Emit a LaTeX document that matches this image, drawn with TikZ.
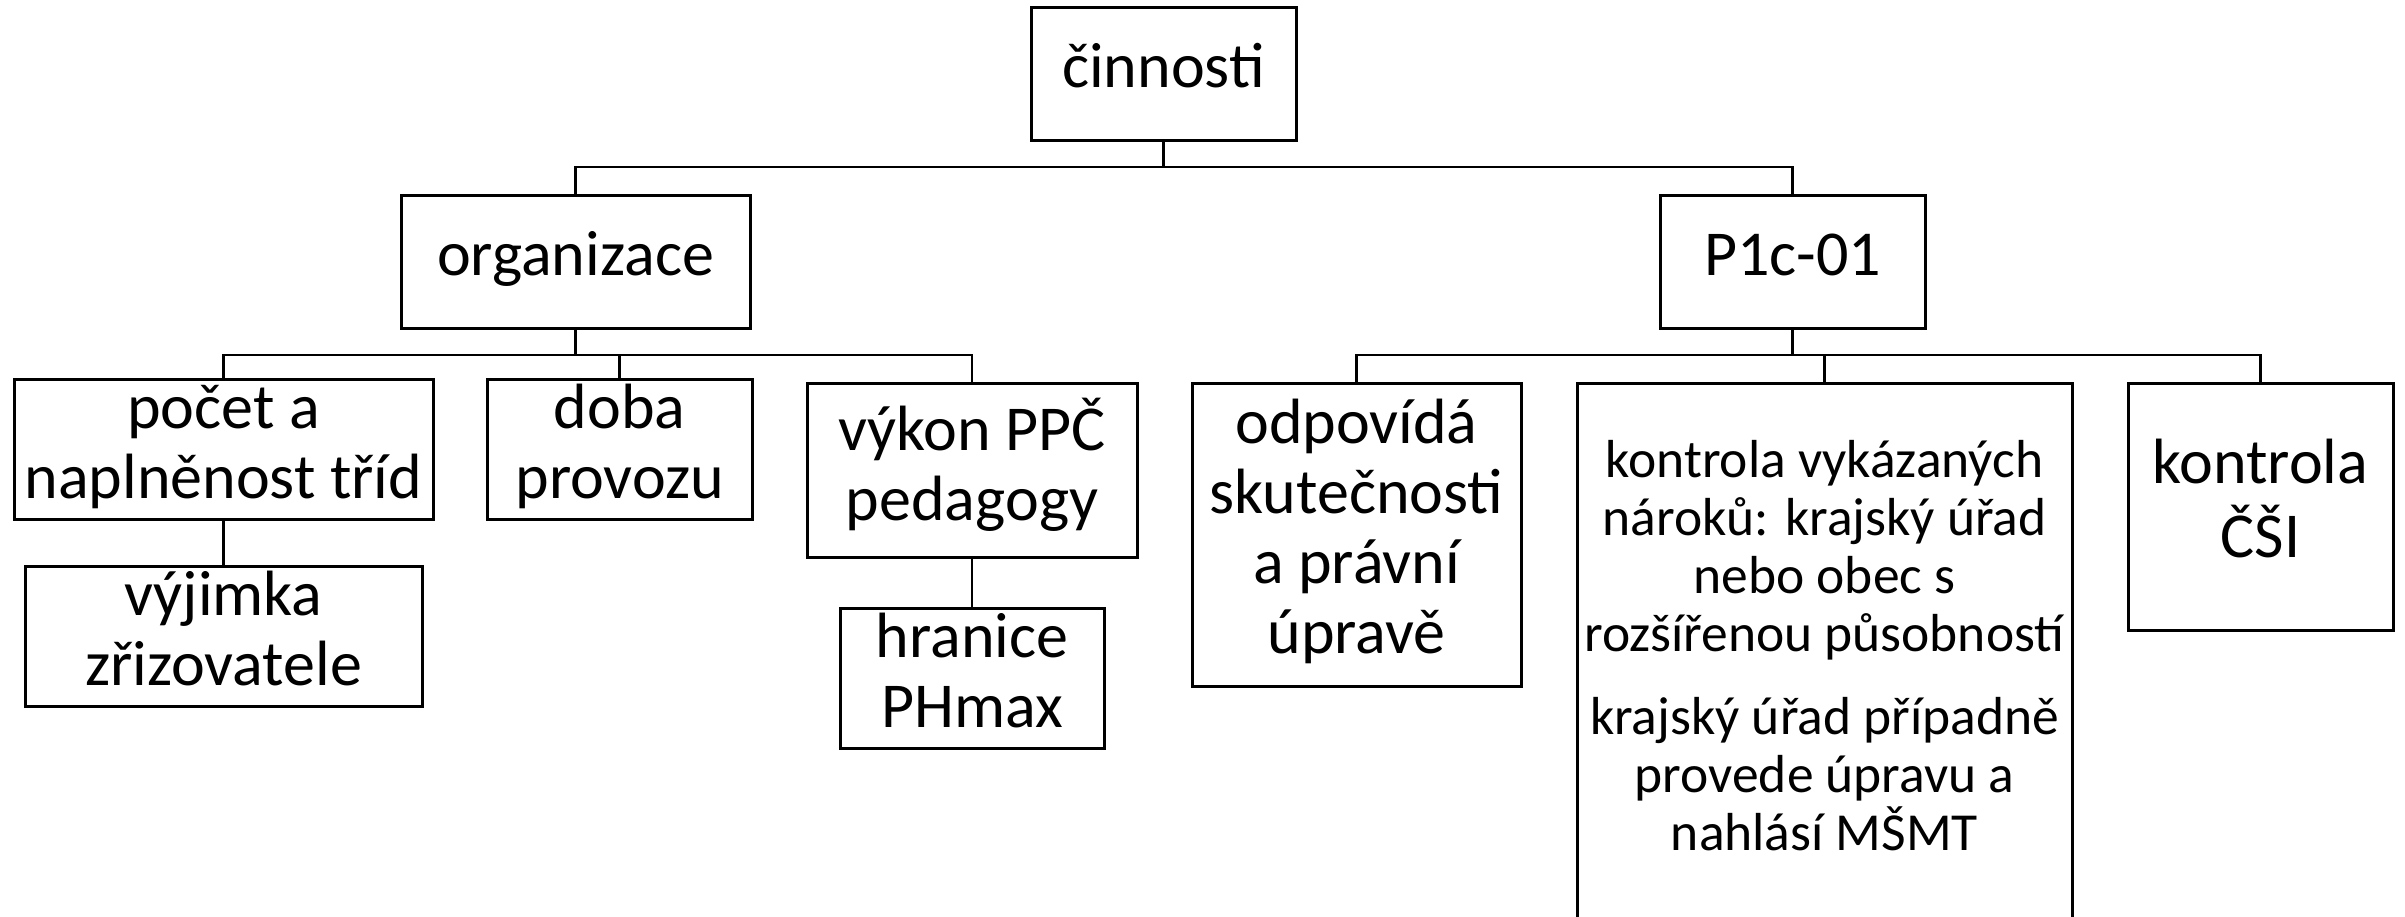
\documentclass[tikz,border=0pt]{standalone}
\usepackage{fontspec}
\setmainfont{Carlito}
\newcommand\BoxFont{\fontsize{64}{70}\selectfont}
\newcommand\SmallBoxFont{\fontsize{53.5}{58}\selectfont}
\begin{document}
\begin{tikzpicture}[x=1pt,y=-1pt,
  box/.style={draw=black,line width=3pt,inner sep=0pt,align=center,font=\BoxFont},
  smallbox/.style={box,font=\SmallBoxFont},
  conn/.style={draw=black,line width=2.4pt}]
\clip (0,0) rectangle (2405,916);
\fill[white] (0,0) rectangle (2405,916);
% level 0
\node[box,minimum width=265pt,minimum height=133pt] (root) at (1163.5,73.5) {\strut činnosti\strut};
% level 1
\node[box,minimum width=349pt,minimum height=133pt] (org) at (575.5,261.5) {\strut organizace\strut};
\node[box,minimum width=265pt,minimum height=133pt] (p1c) at (1792.5,261.5) {\strut P1c-01\strut};
% level 2 (left)
\node[box,minimum width=419pt,minimum height=133pt] (pocet) at (223.5,449.5) {\strut počet a\\naplněnost tříd\strut};
\node[box,minimum width=265pt,minimum height=133pt] (doba) at (619.5,449.5) {\strut doba\\provozu\strut};
\node[box,minimum width=330pt,minimum height=174pt] (vykon) at (972,470) {\strut výkon PPČ\\pedagogy\strut};
% level 3 (left)
\node[box,minimum width=397pt,minimum height=133pt] (vyjimka) at (223.5,636.5) {\strut výjimka\\zřizovatele\strut};
\node[box,minimum width=264pt,minimum height=133pt] (hranice) at (972,678.5) {\strut hranice\\PHmax\strut};
% level 2 (right)
\node[box,minimum width=329pt,minimum height=303pt] (odp) at (1356.5,534.5) {\strut odpovídá\\skutečnosti\\a právní\\úpravě\strut};
\node[smallbox,minimum width=495pt,minimum height=538pt] (kontr) at (1824.5,652) {\strut kontrola vykázaných\\nároků: krajský úřad\\nebo obec s\\rozšířenou působností\\[25pt]krajský úřad případně\\provede úpravu a\\nahlásí MŠMT\strut};
\node[box,minimum width=265pt,minimum height=247pt] (csi) at (2260.5,506.5) {\strut kontrola\\ČŠI\strut};
% bars
\coordinate (b1) at (0,167);
\coordinate (b2) at (0,355);
% connectors
\draw[conn] (root.south) -- (root.south |- b1) -| (org.north);
\draw[conn] (root.south) -- (root.south |- b1) -| (p1c.north);
\draw[conn] (org.south) -- (org.south |- b2) -| (pocet.north);
\draw[conn] (org.south) -- (org.south |- b2) -| (doba.north);
\draw[conn] (org.south) -- (org.south |- b2) -| (vykon.north);
\draw[conn] (p1c.south) -- (p1c.south |- b2) -| (odp.north);
\draw[conn] (p1c.south) -- (p1c.south |- b2) -| (kontr.north);
\draw[conn] (p1c.south) -- (p1c.south |- b2) -| (csi.north);
\draw[conn] (pocet.south) -- (vyjimka.north);
\draw[conn] (vykon.south) -- (hranice.north);
\end{tikzpicture}
\end{document}
